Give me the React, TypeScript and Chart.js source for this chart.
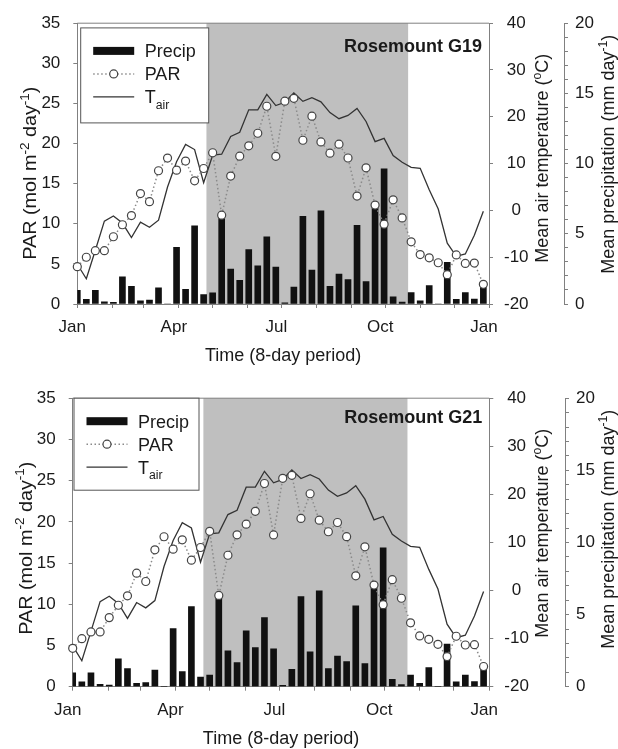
import React, { useEffect, useRef } from 'react';
import { Chart, registerables } from 'chart.js';

Chart.register(...registerables);

// ---- Data (8-day periods, day of year of period start) ----
const DAYS = [1, 9, 17, 25, 33, 41, 49, 57, 65, 73, 81, 89, 97, 105, 113, 121, 129, 137, 145, 153, 161, 169, 177, 185, 193, 201, 209, 217, 225, 233, 241, 249, 257, 265, 273, 281, 289, 297, 305, 313, 321, 329, 337, 345, 353, 361];

// Mean precipitation (mm day-1)
const PRECIP = [0.97, 0.33, 0.97, 0.16, 0.12, 1.94, 1.25, 0.23, 0.28, 1.16, 0, 4.03, 1.04, 5.56, 0.67, 0.8, 6.25, 2.48, 1.68, 3.87, 2.71, 4.79, 2.63, 0.09, 1.2, 6.25, 2.42, 6.64, 1.25, 2.13, 1.74, 5.6, 1.6, 6.97, 9.62, 0.51, 0.14, 0.81, 0.23, 1.32, 0, 2.96, 0.33, 0.81, 0.35, 1.2];

// PAR (mol m-2 day-1)
const PAR = [4.65, 5.83, 6.65, 6.65, 8.38, 9.88, 11.02, 13.77, 12.76, 16.61, 18.19, 16.68, 17.82, 15.35, 16.89, 18.85, 11.07, 15.95, 18.43, 19.72, 21.28, 24.65, 18.41, 25.28, 25.64, 20.41, 23.41, 20.2, 18.8, 19.92, 18.2, 13.45, 16.97, 12.33, 9.95, 12.98, 10.73, 7.75, 6.16, 5.75, 5.14, 3.65, 6.12, 5.06, 5.1, 2.45];

// Mean air temperature (deg C)
const TAIR = [-11.5, -14.6, -8.5, -2.3, -1.2, -2.7, -5.8, -2.5, -3.6, -2.1, 5.0, 10.4, 14.1, 13.0, 5.9, 11.8, 12.0, 15.8, 16.7, 21.5, 21.5, 24.8, 22.4, 23.1, 25.1, 23.3, 24.1, 23.2, 20.9, 19.6, 20.3, 21.8, 19.0, 14.7, 15.4, 11.7, 10.3, 9.2, 9.0, 4.4, 0.3, -7.0, -9.8, -9.3, -5.3, -0.2];

// Growing season shading (day of year)
const SHADE_START = 115.5;
const SHADE_END = 294.3;

// X axis: month tick marks and labelled ticks
const MONTH_STARTS = [1, 32, 60, 91, 121, 152, 182, 213, 244, 274, 305, 335, 366];
const LABEL_DAYS = [1, 91, 182, 274, 366];
const LABEL_TEXT = ['Jan', 'Apr', 'Jul', 'Oct', 'Jan'];

const PANEL_NAMES = ['Rosemount G19', 'Rosemount G21'];

const FONT = '"Liberation Sans", Arial, Helvetica, sans-serif';
const AXIS_COLOR = '#808080';
const TEXT_COLOR = '#1a1a1a';

type Seg = { t: string; s?: 'sup' | 'sub' };

function drawRich(
  ctx: CanvasRenderingContext2D,
  segs: Seg[],
  x: number,
  y: number,
  size: number,
  opts: { bold?: boolean; rot?: number; align?: 'left' | 'center' | 'right'; stretch?: number } = {}
) {
  const { bold = false, rot = 0, align = 'left', stretch = 1 } = opts;
  const font = (sz: number) => `${bold ? 'bold ' : ''}${sz}px ${FONT}`;
  ctx.save();
  ctx.translate(x, y);
  ctx.rotate(rot);
  ctx.scale(stretch, 1);
  ctx.fillStyle = TEXT_COLOR;
  ctx.textAlign = 'left';
  ctx.textBaseline = 'alphabetic';
  let total = 0;
  const widths = segs.map((sg) => {
    ctx.font = font(sg.s ? size * 0.68 : size);
    const w = ctx.measureText(sg.t).width;
    total += w;
    return w;
  });
  let cx = align === 'left' ? 0 : align === 'center' ? -total / 2 : -total;
  const base = size * 0.358;
  segs.forEach((sg, i) => {
    ctx.font = font(sg.s ? size * 0.68 : size);
    const dy = sg.s === 'sup' ? -size * 0.42 : sg.s === 'sub' ? size * 0.3 : 0;
    ctx.fillText(sg.t, cx, base + dy);
    cx += widths[i];
  });
  ctx.restore();
}

type Panel = {
  name: string;
  canvasH: number;
  plotLeft: number;
  plotRight: number;
  plotTop: number;
  plotBottom: number;
  precipLine: number;
  legendDx: number;
  legendDy: number;
  legendW: number;
  legendH: number;
  nameDy: number;
};

const PANELS: Panel[] = [
  { name: PANEL_NAMES[0], canvasH: 375, plotLeft: 77.3, plotRight: 489, plotTop: 16, plotBottom: 304, precipLine: 564, legendDx: 3.4, legendDy: 4.7, legendW: 128, legendH: 95, nameDy: 22.5 },
  { name: PANEL_NAMES[1], canvasH: 374, plotLeft: 72.7, plotRight: 489.3, plotTop: 22.7, plotBottom: 311.7, precipLine: 565, legendDx: 1.3, legendDy: 0, legendW: 125, legendH: 92, nameDy: 18.5 },
];

function makeConfig(p: Panel): any {
  const shadePlugin = {
    id: 'shade',
    beforeDraw(chart: any) {
      const { ctx, chartArea } = chart;
      const xs = chart.scales.x;
      const x1 = xs.getPixelForValue(SHADE_START);
      const x2 = xs.getPixelForValue(SHADE_END);
      ctx.save();
      ctx.fillStyle = '#bfbfbf';
      ctx.fillRect(x1, chartArea.top, x2 - x1, chartArea.bottom - chartArea.top);
      ctx.restore();
    },
  };

  const decorPlugin = {
    id: 'decor',
    afterDraw(chart: any) {
      const { ctx, chartArea } = chart;
      const { left, right, top, bottom } = chartArea;
      ctx.save();
      // top frame
      ctx.strokeStyle = AXIS_COLOR;
      ctx.lineWidth = 1;
      ctx.beginPath();
      ctx.moveTo(left, top);
      ctx.lineTo(right, top);
      ctx.stroke();

      // legend
      const lx = left + p.legendDx;
      const ly = top + p.legendDy;
      ctx.fillStyle = '#ffffff';
      ctx.fillRect(lx, ly, p.legendW, p.legendH);
      ctx.strokeStyle = '#555';
      ctx.strokeRect(lx, ly, p.legendW, p.legendH);
      const sx1 = lx + 12.5;
      const sx2 = lx + 53.5;
      const tx = lx + 64;
      const r1 = ly + 23;
      const r2 = ly + 46;
      const r3 = ly + 69;
      ctx.fillStyle = '#111';
      ctx.fillRect(sx1, r1 - 4, sx2 - sx1, 8);
      ctx.strokeStyle = '#8a8a8a';
      ctx.lineWidth = 1.5;
      ctx.setLineDash([1.5, 2.5]);
      ctx.beginPath();
      ctx.moveTo(sx1, r2);
      ctx.lineTo(sx2, r2);
      ctx.stroke();
      ctx.setLineDash([]);
      ctx.beginPath();
      ctx.arc((sx1 + sx2) / 2, r2, 4, 0, Math.PI * 2);
      ctx.fillStyle = '#fff';
      ctx.fill();
      ctx.strokeStyle = '#444';
      ctx.lineWidth = 1.2;
      ctx.stroke();
      ctx.strokeStyle = '#333';
      ctx.lineWidth = 1.3;
      ctx.beginPath();
      ctx.moveTo(sx1, r3);
      ctx.lineTo(sx2, r3);
      ctx.stroke();
      drawRich(ctx, [{ t: 'Precip' }], tx, r1, 18);
      drawRich(ctx, [{ t: 'PAR' }], tx, r2, 18);
      drawRich(ctx, [{ t: 'T' }, { t: 'air', s: 'sub' }], tx, r3, 18);

      // panel name
      drawRich(ctx, [{ t: p.name }], right - 7, top + p.nameDy, 18, { bold: true, align: 'right' });

      // axis titles
      drawRich(ctx, [{ t: 'Time (8-day period)' }], (left + right) / 2, bottom + 51, 18, { align: 'center' });
      drawRich(
        ctx,
        [{ t: 'PAR (mol m' }, { t: '-2', s: 'sup' }, { t: ' day' }, { t: '-1', s: 'sup' }, { t: ')' }],
        left - 47.5,
        top + 150,
        18,
        { rot: -Math.PI / 2, align: 'center', stretch: 1.1 }
      );
      drawRich(
        ctx,
        [{ t: 'Mean air temperature (' }, { t: 'o', s: 'sup' }, { t: 'C)' }],
        542,
        top + 135,
        18,
        { rot: -Math.PI / 2, align: 'center' }
      );
      drawRich(
        ctx,
        [{ t: 'Mean precipitation (mm day' }, { t: '-1', s: 'sup' }, { t: ')' }],
        608,
        top + 131,
        18,
        { rot: -Math.PI / 2, align: 'center' }
      );
      ctx.restore();
    },
  };

  const tickFont = { family: FONT, size: 17 };
  const gridCommon = { display: true, drawOnChartArea: false, drawTicks: true, tickLength: 4, color: AXIS_COLOR, lineWidth: 1 };
  const borderCommon = { display: true, color: AXIS_COLOR, width: 1 };

  return {
    type: 'line',
    data: {
      datasets: [
        {
          type: 'line',
          label: 'PAR',
          data: DAYS.map((d, i) => ({ x: d, y: PAR[i] })),
          yAxisID: 'yPAR',
          xAxisID: 'x',
          borderColor: '#8a8a8a',
          borderWidth: 1.5,
          borderDash: [1.5, 2.5],
          pointRadius: 4,
          pointBackgroundColor: '#ffffff',
          pointBorderColor: '#444444',
          pointBorderWidth: 1.2,
          order: 0,
          clip: false,
        },
        {
          type: 'line',
          label: 'Tair',
          data: DAYS.map((d, i) => ({ x: d, y: TAIR[i] })),
          yAxisID: 'yTemp',
          xAxisID: 'x',
          borderColor: '#333333',
          borderWidth: 1.3,
          pointRadius: 0,
          order: 1,
          clip: false,
        },
        {
          type: 'bar',
          label: 'Precip',
          data: DAYS.map((d, i) => ({ x: d, y: PRECIP[i] })),
          yAxisID: 'yPrecip',
          xAxisID: 'x',
          backgroundColor: '#111111',
          barThickness: 6,
          order: 2,
        },
      ],
    },
    options: {
      responsive: false,
      maintainAspectRatio: false,
      animation: false,
      events: [],
      layout: { padding: { left: 0, right: 0, top: p.plotTop, bottom: 0 } },
      plugins: { legend: { display: false }, tooltip: { enabled: false } },
      scales: {
        x: {
          type: 'linear',
          position: 'bottom',
          min: 1,
          max: 366,
          offset: false,
          afterBuildTicks: (s: any) => {
            s.ticks = MONTH_STARTS.map((v) => ({ value: v }));
          },
          afterFit: (s: any) => {
            s.height = p.canvasH - p.plotBottom;
          },
          ticks: {
            autoSkip: false,
            maxRotation: 0,
            minRotation: 0,
            padding: 9,
            labelOffset: -5,
            color: TEXT_COLOR,
            font: tickFont,
            callback: (v: number) => {
              const k = LABEL_DAYS.indexOf(v);
              return k >= 0 ? LABEL_TEXT[k] : '';
            },
          },
          grid: { ...gridCommon, offset: false },
          border: borderCommon,
        },
        yPAR: {
          type: 'linear',
          position: 'left',
          min: 0,
          max: 35,
          afterFit: (s: any) => {
            s.width = p.plotLeft;
          },
          ticks: { stepSize: 5, padding: 13, color: TEXT_COLOR, font: tickFont, autoSkip: false },
          grid: gridCommon,
          border: borderCommon,
        },
        yTemp: {
          type: 'linear',
          position: 'right',
          weight: 0,
          min: -20,
          max: 40,
          afterFit: (s: any) => {
            s.width = p.precipLine - p.plotRight;
          },
          ticks: { stepSize: 10, padding: 11, crossAlign: 'center', color: TEXT_COLOR, font: tickFont, autoSkip: false },
          grid: gridCommon,
          border: borderCommon,
        },
        yPrecip: {
          type: 'linear',
          position: 'right',
          weight: 1,
          min: 0,
          max: 20,
          afterFit: (s: any) => {
            s.width = 618 - p.precipLine;
          },
          ticks: {
            stepSize: 1,
            padding: 7,
            autoSkip: false,
            color: TEXT_COLOR,
            font: tickFont,
            callback: (v: number) => (v % 5 === 0 ? String(v) : ''),
          },
          grid: gridCommon,
          border: borderCommon,
        },
      },
    },
    plugins: [shadePlugin, decorPlugin],
  };
}

function PanelChart({ panel, top }: { panel: Panel; top: number }) {
  const ref = useRef<HTMLCanvasElement | null>(null);
  useEffect(() => {
    if (!ref.current) return;
    const chart = new Chart(ref.current, makeConfig(panel));
    return () => chart.destroy();
  }, [panel]);
  return (
    <canvas
      ref={ref}
      width={618}
      height={panel.canvasH}
      style={{ position: 'absolute', left: 0, top, width: 618, height: panel.canvasH, display: 'block' }}
    />
  );
}

export default function App() {
  return (
    <div style={{ position: 'absolute', left: 0, top: 0, width: 618, height: 749, background: '#ffffff', overflow: 'hidden' }}>
      <PanelChart panel={PANELS[0]} top={0} />
      <PanelChart panel={PANELS[1]} top={375} />
    </div>
  );
}
